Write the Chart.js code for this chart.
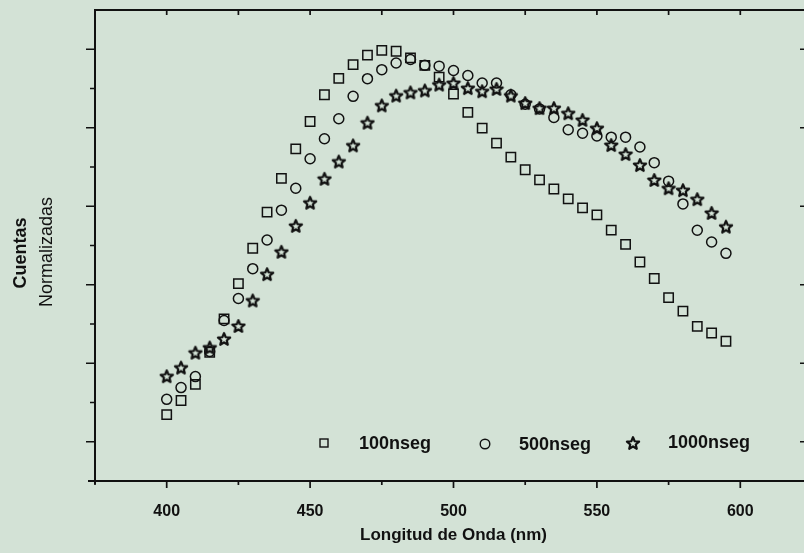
<!DOCTYPE html>
<html lang="es">
  <head>
    <meta charset="UTF-8" />
    <title>Cuentas normalizadas vs longitud de onda</title>
    <script src="https://cdn.jsdelivr.net/npm/chart.js"></script>
    <style>
      html, body { margin: 0; padding: 0; overflow: hidden; background: #d3e2d6; }
      #wrap { position: absolute; left: 0; top: 0; width: 830px; height: 553px; }
    </style>
  </head>
  <body>
    <div id="wrap"><canvas id="chart" width="830" height="553"></canvas></div>

    <script>
      // wavelengths (nm)
      const wavelength = [
        400, 405, 410, 415, 420, 425, 430, 435, 440, 445,
        450, 455, 460, 465, 470, 475, 480, 485, 490, 495,
        500, 505, 510, 515, 520, 525, 530, 535, 540, 545,
        550, 555, 560, 565, 570, 575, 580, 585, 590, 595
      ];

      const counts100 = [
        0.069, 0.105, 0.146, 0.228, 0.313, 0.403, 0.493, 0.585, 0.671, 0.746,
        0.816, 0.884, 0.926, 0.961, 0.985, 0.997, 0.995, 0.978, 0.959, 0.929,
        0.886, 0.839, 0.799, 0.761, 0.725, 0.693, 0.667, 0.644, 0.619, 0.596,
        0.578, 0.539, 0.503, 0.458, 0.416, 0.367, 0.333, 0.294, 0.277, 0.256
      ];

      const counts500 = [
        0.108, 0.138, 0.166, 0.230, 0.309, 0.365, 0.441, 0.514, 0.590, 0.646,
        0.721, 0.772, 0.823, 0.880, 0.925, 0.948, 0.965, 0.974, 0.959, 0.957,
        0.946, 0.933, 0.914, 0.914, 0.884, 0.860, 0.848, 0.826, 0.795, 0.786,
        0.779, 0.776, 0.776, 0.751, 0.711, 0.664, 0.606, 0.539, 0.509, 0.480
      ];

      const counts1000 = [
        0.167, 0.189, 0.227, 0.240, 0.262, 0.295, 0.360, 0.427, 0.484, 0.550,
        0.609, 0.670, 0.714, 0.755, 0.813, 0.857, 0.882, 0.890, 0.895, 0.910,
        0.914, 0.901, 0.893, 0.899, 0.882, 0.863, 0.850, 0.850, 0.837, 0.820,
        0.799, 0.756, 0.733, 0.705, 0.667, 0.646, 0.641, 0.618, 0.583, 0.548
      ];

      const seriesNames = ["100nseg", "500nseg", "1000nseg"];
      const xTicks = [400, 450, 500, 550, 600];
      const xMinorTicks = [375, 425, 475, 525, 575, 625];
      const xTopTicks = [400, 425, 450, 475, 500, 525, 550, 575, 600];
      const yMajorTicks = [0, 0.2, 0.4, 0.6, 0.8, 1.0];
      const yMinorTicks = [0.1, 0.3, 0.5, 0.7, 0.9];

      const ink = "#111111";
      const fontFamily = "'Liberation Sans', Arial, sans-serif";

      // pentagram outline used as point style
      function makeStar(size) {
        const c = document.createElement("canvas");
        c.width = size;
        c.height = size;
        const g = c.getContext("2d");
        const cx = size / 2, cy = size / 2 + 0.6;
        const R = size * 0.4, r = size * 0.18;
        g.beginPath();
        for (let i = 0; i < 10; i++) {
          const rad = i % 2 === 0 ? R : r;
          const a = -Math.PI / 2 + (i * Math.PI) / 5;
          const px = cx + rad * Math.cos(a), py = cy + rad * Math.sin(a);
          if (i === 0) g.moveTo(px, py); else g.lineTo(px, py);
        }
        g.closePath();
        g.lineWidth = 2.2;
        g.lineJoin = "round";
        g.strokeStyle = ink;
        g.stroke();
        return c;
      }
      const starImg = makeStar(16);

      function toPoints(ys) {
        return wavelength.map((x, i) => ({ x: x, y: ys[i] }));
      }

      // frame with tick marks drawn from the scales
      const framePlugin = {
        id: "frame",
        afterDraw(chart) {
          const { ctx, chartArea: a, scales } = chart;
          const xs = scales.x, ys = scales.y;
          ctx.save();
          ctx.strokeStyle = ink;
          ctx.lineWidth = 2;
          ctx.beginPath();
          ctx.moveTo(a.left, a.top - 1);
          ctx.lineTo(a.left, a.bottom + 3);
          ctx.moveTo(a.left - 7, a.bottom);
          ctx.lineTo(a.right + 2, a.bottom);
          ctx.moveTo(a.left - 1, a.top);
          ctx.lineTo(a.right + 2, a.top);
          ctx.moveTo(a.right, a.top);
          ctx.lineTo(a.right, a.bottom);
          ctx.stroke();

          ctx.lineWidth = 1.7;
          ctx.beginPath();
          yMajorTicks.forEach((v) => {
            const p = ys.getPixelForValue(v);
            ctx.moveTo(a.left - 9, p);
            ctx.lineTo(a.left, p);
            ctx.moveTo(a.right - 12, p);
            ctx.lineTo(a.right, p);
          });
          yMinorTicks.forEach((v) => {
            const p = ys.getPixelForValue(v);
            ctx.moveTo(a.left - 5, p);
            ctx.lineTo(a.left, p);
          });
          xTicks.forEach((v) => {
            const p = xs.getPixelForValue(v);
            ctx.moveTo(p, a.bottom);
            ctx.lineTo(p, a.bottom + 7);
          });
          xMinorTicks.forEach((v) => {
            const p = xs.getPixelForValue(v);
            ctx.moveTo(p, a.bottom);
            ctx.lineTo(p, a.bottom + 4);
          });
          xTopTicks.forEach((v) => {
            const p = xs.getPixelForValue(v);
            ctx.moveTo(p, a.top);
            ctx.lineTo(p, a.top + 5);
          });
          ctx.stroke();

          // y axis title, two lines with different weights
          ctx.fillStyle = ink;
          ctx.textAlign = "center";
          ctx.textBaseline = "middle";
          ctx.save();
          ctx.translate(21, 253);
          ctx.rotate(-Math.PI / 2);
          ctx.font = "bold 18px " + fontFamily;
          ctx.fillText("Cuentas", 0, 0);
          ctx.restore();
          ctx.save();
          ctx.translate(47, 252);
          ctx.rotate(-Math.PI / 2);
          ctx.font = "18px " + fontFamily;
          ctx.fillText("Normalizadas", 0, 0);
          ctx.restore();

          // legend inside the plot
          const ly = a.bottom - 38;
          ctx.strokeStyle = ink;
          ctx.lineWidth = 1.4;
          ctx.strokeRect(a.left + 225, ly - 4, 8, 8);
          ctx.beginPath();
          ctx.arc(a.left + 390, ly + 1, 4.8, 0, Math.PI * 2);
          ctx.stroke();
          ctx.drawImage(starImg, a.left + 530, ly - 8, 16, 16);
          ctx.font = "bold 18px " + fontFamily;
          ctx.textAlign = "left";
          ctx.fillText(seriesNames[0], a.left + 264, ly + 1);
          ctx.fillText(seriesNames[1], a.left + 424, ly + 2);
          ctx.fillText(seriesNames[2], a.left + 573, ly);
          ctx.restore();
        },
      };

      new Chart(document.getElementById("chart"), {
        type: "scatter",
        data: {
          datasets: [
            {
              label: seriesNames[0],
              data: toPoints(counts100),
              pointStyle: "rect",
              pointRadius: 6.6,
              borderWidth: 1.5,
              borderColor: ink,
              backgroundColor: "rgba(0,0,0,0)",
            },
            {
              label: seriesNames[1],
              data: toPoints(counts500),
              pointStyle: "circle",
              pointRadius: 5,
              borderWidth: 1.5,
              borderColor: ink,
              backgroundColor: "rgba(0,0,0,0)",
            },
            {
              label: seriesNames[2],
              data: toPoints(counts1000),
              pointStyle: starImg,
              pointRadius: 7,
              borderColor: ink,
              backgroundColor: "rgba(0,0,0,0)",
            },
          ],
        },
        options: {
          responsive: false,
          animation: false,
          events: [],
          layout: { padding: { top: 10, right: 18, left: 0, bottom: 0 } },
          plugins: {
            legend: { display: false },
            tooltip: { enabled: false },
          },
          scales: {
            x: {
              type: "linear",
              min: 375,
              max: 625,
              afterBuildTicks: (s) => {
                s.ticks = xTicks.map((v) => ({ value: v }));
              },
              afterFit: (s) => {
                s.height = 72;
              },
              grid: { display: false },
              border: { display: false },
              ticks: {
                autoSkip: false,
                maxRotation: 0,
                padding: 13,
                color: ink,
                font: { family: fontFamily, size: 16, weight: "bold" },
              },
              title: {
                display: true,
                text: "Longitud de Onda (nm)",
                color: ink,
                padding: { top: 2, bottom: 7 },
                font: { family: fontFamily, size: 17, weight: "bold" },
              },
            },
            y: {
              min: -0.1,
              max: 1.1,
              afterFit: (s) => {
                s.width = 95;
              },
              grid: { display: false },
              border: { display: false },
              ticks: { display: false },
            },
          },
        },
        plugins: [framePlugin],
      });
    </script>
  </body>
</html>
